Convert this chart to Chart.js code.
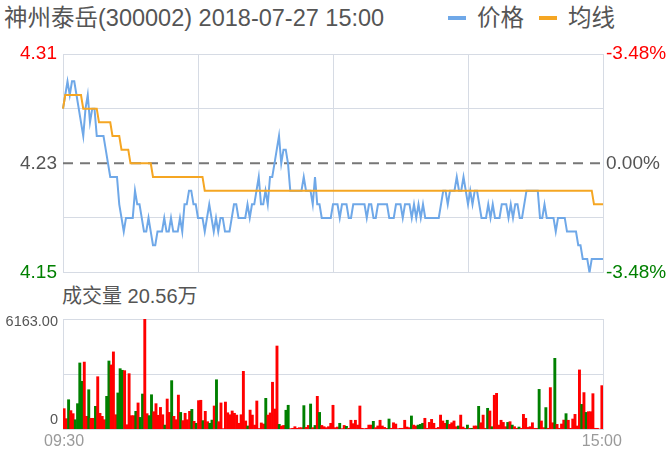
<!DOCTYPE html>
<html>
<head>
<meta charset="utf-8">
<script src="https://cdn.jsdelivr.net/npm/chart.js@4"></script>
<style>
  body { margin: 0; background: #fff; width: 672px; height: 457px; position: relative; overflow: hidden;
         font-family: 'Liberation Sans', 'Noto Sans CJK SC', sans-serif; color: #555; }
  canvas { position: absolute; left: 0; }
  #priceChart { top: 0; }
  #volumeChart { top: 280px; }
  .title { position: absolute; left: 4px; top: 4px; font-size: 23.5px; line-height: 28px; white-space: nowrap; }
  .legend { position: absolute; left: 448px; top: 4px; font-size: 23.5px; line-height: 28px; display: flex; align-items: center; white-space: nowrap; }
  .legend i { display: inline-block; width: 18px; height: 4px; margin-right: 11px; }
  .legend span { margin-right: 15px; }
  .vol-title { position: absolute; left: 62px; top: 284px; font-size: 20px; line-height: 24px; white-space: nowrap; }
</style>
</head>
<body>
<div class="title">神州泰岳(300002) 2018-07-27 15:00</div>
<div class="legend"><i style="background:#6fa8e8"></i><span>价格</span><i style="background:#f5a623"></i><span>均线</span></div>
<div class="vol-title">成交量 20.56万</div>
<canvas id="priceChart" width="672" height="290"></canvas>
<canvas id="volumeChart" width="672" height="177"></canvas>

<script>
// minute labels 09:30-11:30, 13:01-15:00
const times = []
const fmt = m => String(Math.floor(m / 60)).padStart(2, '0') + ':' + String(m % 60).padStart(2, '0')
for (let m = 9 * 60 + 30; m <= 11 * 60 + 30; m++) times.push(fmt(m))
for (let m = 13 * 60 + 1; m <= 15 * 60; m++) times.push(fmt(m))

const prevClose = 4.23

const prices = [
  4.27,4.28,4.29,4.28,4.29,4.29,4.28,4.27,4.26,4.25,
  4.27,4.28,4.26,4.27,4.27,4.25,4.25,4.25,4.25,4.24,
  4.23,4.22,4.22,4.22,4.22,4.20,4.19,4.18,4.19,4.19,
  4.19,4.19,4.21,4.20,4.20,4.19,4.18,4.18,4.19,4.18,
  4.17,4.17,4.18,4.18,4.18,4.19,4.18,4.18,4.19,4.18,
  4.18,4.18,4.19,4.18,4.20,4.20,4.21,4.21,4.20,4.20,
  4.19,4.19,4.19,4.18,4.19,4.20,4.19,4.18,4.19,4.18,
  4.19,4.19,4.18,4.18,4.18,4.19,4.20,4.20,4.19,4.19,
  4.19,4.19,4.20,4.19,4.20,4.20,4.21,4.22,4.20,4.20,
  4.21,4.20,4.22,4.22,4.23,4.24,4.25,4.23,4.24,4.24,
  4.23,4.21,4.21,4.21,4.21,4.21,4.21,4.22,4.21,4.21,
  4.21,4.20,4.22,4.20,4.20,4.19,4.19,4.19,4.19,4.19,
  4.20,4.20,4.20,4.19,4.20,4.20,4.20,4.19,4.19,4.20,
  4.20,4.20,4.20,4.20,4.20,4.19,4.20,4.20,4.19,4.19,
  4.20,4.20,4.20,4.20,4.20,4.19,4.19,4.19,4.20,4.20,
  4.20,4.19,4.20,4.20,4.20,4.19,4.20,4.19,4.20,4.19,
  4.20,4.19,4.19,4.19,4.19,4.19,4.19,4.19,4.20,4.21,
  4.21,4.20,4.21,4.21,4.21,4.22,4.21,4.21,4.22,4.21,
  4.20,4.21,4.20,4.21,4.21,4.20,4.19,4.19,4.19,4.20,
  4.19,4.20,4.19,4.19,4.19,4.20,4.20,4.20,4.19,4.20,
  4.19,4.20,4.20,4.19,4.19,4.20,4.21,4.21,4.21,4.21,
  4.21,4.21,4.19,4.19,4.20,4.19,4.19,4.19,4.19,4.18,
  4.19,4.19,4.19,4.19,4.18,4.18,4.18,4.18,4.18,4.17,
  4.17,4.16,4.16,4.16,4.15,4.16,4.16,4.16,4.16,4.16,
  4.16
]

const avgPrices = [
  4.27,4.28,4.28,4.28,4.28,4.28,4.28,4.28,4.28,4.27,4.27,4.27,4.27,4.27,4.27,4.27,4.26,4.26,4.26,4.26,
  4.26,4.26,4.25,4.25,4.25,4.25,4.24,4.24,4.24,4.24,4.23,4.23,4.23,4.23,4.23,4.23,4.23,4.23,4.23,4.23,
  4.22,4.22,4.22,4.22,4.22,4.22,4.22,4.22,4.22,4.22,4.22,4.22,4.22,4.22,4.22,4.22,4.22,4.22,4.22,4.22,
  4.22,4.22,4.22,4.21,4.21,4.21,4.21,4.21,4.21,4.21,4.21,4.21,4.21,4.21,4.21,4.21,4.21,4.21,4.21,4.21,
  4.21,4.21,4.21,4.21,4.21,4.21,4.21,4.21,4.21,4.21,4.21,4.21,4.21,4.21,4.21,4.21,4.21,4.21,4.21,4.21,
  4.21,4.21,4.21,4.21,4.21,4.21,4.21,4.21,4.21,4.21,4.21,4.21,4.21,4.21,4.21,4.21,4.21,4.21,4.21,4.21,
  4.21,4.21,4.21,4.21,4.21,4.21,4.21,4.21,4.21,4.21,4.21,4.21,4.21,4.21,4.21,4.21,4.21,4.21,4.21,4.21,
  4.21,4.21,4.21,4.21,4.21,4.21,4.21,4.21,4.21,4.21,4.21,4.21,4.21,4.21,4.21,4.21,4.21,4.21,4.21,4.21,
  4.21,4.21,4.21,4.21,4.21,4.21,4.21,4.21,4.21,4.21,4.21,4.21,4.21,4.21,4.21,4.21,4.21,4.21,4.21,4.21,
  4.21,4.21,4.21,4.21,4.21,4.21,4.21,4.21,4.21,4.21,4.21,4.21,4.21,4.21,4.21,4.21,4.21,4.21,4.21,4.21,
  4.21,4.21,4.21,4.21,4.21,4.21,4.21,4.21,4.21,4.21,4.21,4.21,4.21,4.21,4.21,4.21,4.21,4.21,4.21,4.21,
  4.21,4.21,4.21,4.21,4.21,4.21,4.21,4.21,4.21,4.21,4.21,4.21,4.21,4.21,4.21,4.21,4.20,4.20,4.20,4.20,
  4.20
]

const volumes = [
  1140,580,1640,1030,860,520,1420,3700,2670,3750,
  710,2200,600,600,1270,2930,880,710,520,1830,
  3810,3590,4320,800,2020,3380,3290,3270,240,3100,
  750,750,990,1460,650,1960,6163,860,750,1920,
  970,1420,770,1210,800,220,1680,930,2710,710,
  520,1900,930,470,880,520,990,1100,430,320,
  1590,1610,470,990,410,320,500,1290,2760,410,
  1460,20,1510,910,800,1010,880,780,320,800,
  3230,450,170,1060,780,220,1570,30,340,280,
  1720,780,900,2620,1120,4650,260,170,200,1050,
  1330,20,40,130,40,75,75,1310,90,200,
  1400,75,200,1830,930,200,130,75,130,320,
  1330,75,110,320,20,200,150,40,490,300,
  490,220,1290,40,20,40,220,220,430,75,
  170,490,170,90,40,560,40,350,280,20,
  40,40,490,110,75,730,220,170,220,260,
  320,600,40,370,540,320,40,90,780,450,
  320,490,260,350,450,130,170,780,110,40,
  220,40,40,170,170,1270,350,780,40,1160,
  1010,130,1890,2000,220,490,370,130,370,410,
  220,130,40,110,40,820,600,90,130,350,
  40,40,2220,450,75,1200,40,2320,350,3960,
  260,40,280,500,860,490,40,560,820,170,
  3310,1380,2040,930,970,970,1980,40,40,0,
  2430
]

// r = 红, g = 绿
const volumeSide = (
  'rrgrrggggr' + 'rgrrgrrrrg' + 'grrrgggrrr' + 'rrgrggrrgg' + 'rrrrrgrrgr' +
  'rrgrrrrgrg' + 'rrgrrggrgr' + 'rrrrrrrrrr' + 'rrgrrrrrrr' + 'grrrrrgrrg' +
  'grrrrrrgrr' + 'grgrgrrrrr' + 'rrrgrrgrrr' + 'rrrrrrrrgr' + 'rrrrrgrrrr' +
  'rrrrrgrrgg' + 'grrrrrrrrr' + 'rgrrrrgrrr' + 'grgrrgrrrg' + 'rgrrrrrrgr' +
  'grrgrrrrrr' + 'rrgrrgrrrg' + 'rrrrgrrrrr' + 'rgrgrrrrrr' + 'r'
).split('')

const priceTicks = [4.15, 4.19, 4.23, 4.27, 4.31]
const priceTickLabels = ['4.15', '', '4.23', '', '4.31']
const pctTickLabels = ['-3.48%', '', '0.00%', '', '-3.48%']
const tickColors = ['#008000', '#555555', '#555555', '#555555', '#ff0000']

const volumeGridTicks = [0, 3081.5, 6163]
const volumeTicks = [0, 6163]
const volumeTickLabels = [['0', ''], ['', '6163.00']]

const FONT = "'Liberation Sans', 'Noto Sans CJK SC', sans-serif"
const gridColor = '#d6dbe4'
const RED = '#ff0000'
const GREEN = '#008000'

new Chart(document.getElementById('priceChart'), {
  type: 'line',
  data: {
    labels: times,
    datasets: [
      { data: avgPrices, borderColor: '#f5a623', borderWidth: 2, pointRadius: 0, tension: 0 },
      { data: prices, borderColor: '#6fa8e8', borderWidth: 2, pointRadius: 0, tension: 0 },
      { data: times.map(() => prevClose), borderColor: '#777777', borderWidth: 2, borderDash: [10, 7], pointRadius: 0 }
    ]
  },
  options: {
    responsive: false,
    animation: false,
    layout: { padding: { top: 54, left: 0, right: 0, bottom: 0 } },
    plugins: { legend: { display: false }, tooltip: { enabled: false } },
    scales: {
      x: {
        ticks: { display: false, autoSkip: false },
        grid: { drawTicks: false, color: ctx => (ctx.index % 60 === 0 ? gridColor : 'rgba(0,0,0,0)') },
        border: { display: false },
        afterFit: s => { s.height = 17 }
      },
      y: {
        position: 'left',
        min: 4.15, max: 4.31,
        afterBuildTicks: s => { s.ticks = priceTicks.map(v => ({ value: v })) },
        ticks: {
          callback: (v, i) => priceTickLabels[i],
          color: ctx => tickColors[ctx.index],
          font: { family: FONT, size: 19 },
          padding: 6
        },
        grid: { drawTicks: false, color: ctx => (ctx.index === 2 ? 'rgba(0,0,0,0)' : gridColor) },
        border: { display: false },
        afterFit: s => { s.width = 63 }
      },
      y2: {
        position: 'right',
        min: 4.15, max: 4.31,
        afterBuildTicks: s => { s.ticks = priceTicks.map(v => ({ value: v })) },
        ticks: {
          callback: (v, i) => pctTickLabels[i],
          color: ctx => tickColors[ctx.index],
          font: { family: FONT, size: 19 },
          padding: 3
        },
        grid: { display: false, drawTicks: false },
        border: { display: false },
        afterFit: s => { s.width = 69 }
      }
    }
  }
})

new Chart(document.getElementById('volumeChart'), {
  type: 'bar',
  data: {
    labels: times,
    datasets: [{
      data: volumes,
      backgroundColor: volumeSide.map(s => (s === 'r' ? RED : GREEN)),
      borderWidth: 0,
      barPercentage: 1,
      categoryPercentage: 1
    }]
  },
  options: {
    responsive: false,
    animation: false,
    layout: { padding: { top: 39, left: 0, right: 0, bottom: 0 } },
    plugins: { legend: { display: false }, tooltip: { enabled: false } },
    scales: {
      x: {
        offset: true,
        ticks: {
          autoSkip: false, maxRotation: 0, minRotation: 0,
          callback: (v, i) => (i === 0 || i === times.length - 1 ? times[i] : ''),
          color: '#9a9a9a',
          font: { family: FONT, size: 16 },
          padding: 3
        },
        grid: { display: false, drawTicks: false },
        border: { display: true, color: gridColor },
        afterFit: s => { s.height = 28 }
      },
      y: {
        position: 'left',
        min: 0, max: 6163,
        afterBuildTicks: s => { s.ticks = volumeTicks.map(v => ({ value: v })) },
        ticks: {
          callback: (v, i) => volumeTickLabels[i],
          color: '#555555',
          font: ctx => ({ family: FONT, size: 14.5, lineHeight: ctx.index === 0 ? '19px' : '5px' }),
          padding: 5
        },
        grid: { display: false, drawTicks: false },
        border: { display: true, color: gridColor },
        afterFit: s => { s.width = 63 }
      },
      y2: {
        position: 'right',
        min: 0, max: 6163,
        afterBuildTicks: s => { s.ticks = volumeGridTicks.map(v => ({ value: v })) },
        ticks: { display: false },
        grid: { drawTicks: false, color: gridColor },
        border: { display: true, color: gridColor },
        afterFit: s => { s.width = 69 }
      }
    }
  }
})
</script>
</body>
</html>
